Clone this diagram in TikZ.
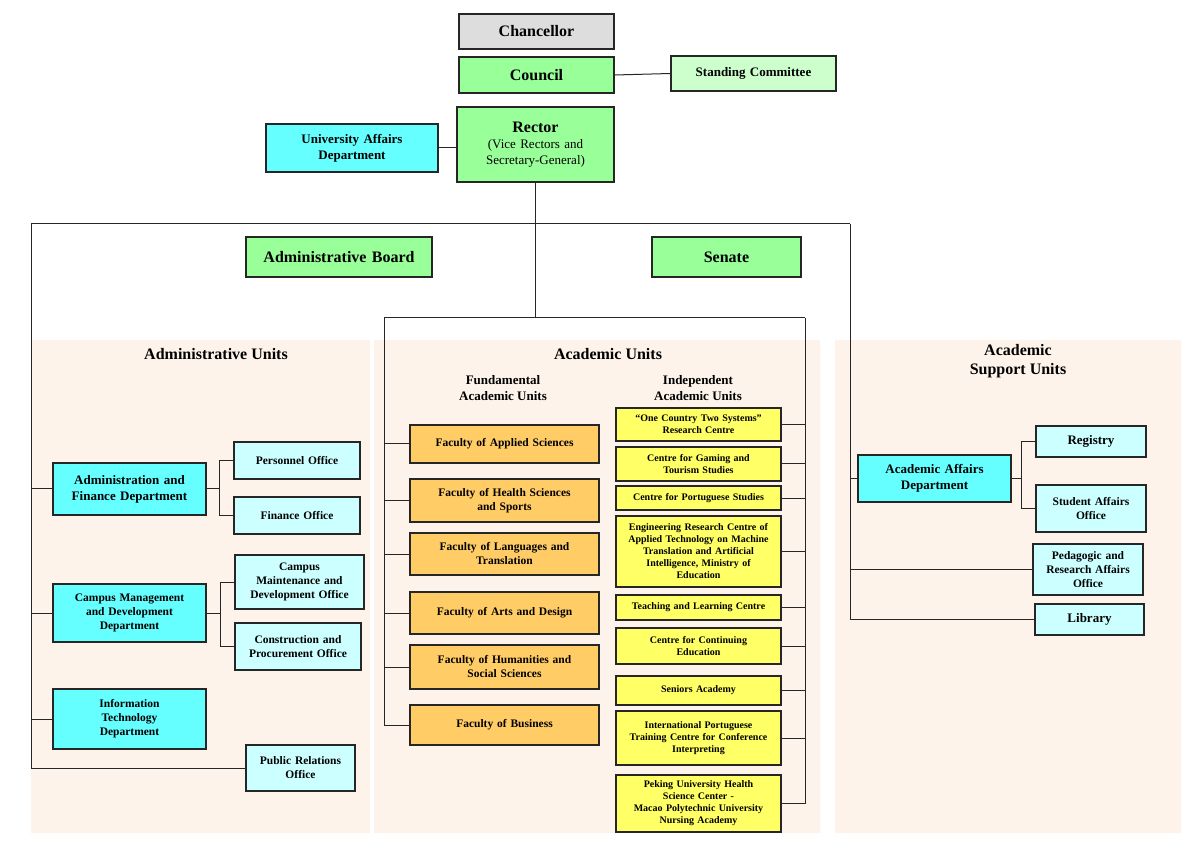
\documentclass[tikz,border=0pt]{standalone}
\usepackage{fontspec}
\setmainfont{Liberation Serif}
\definecolor{cGray}{RGB}{221,221,221}
\definecolor{cGrn}{RGB}{153,255,153}
\definecolor{cLGrn}{RGB}{204,255,204}
\definecolor{cCyan}{RGB}{102,255,255}
\definecolor{cLCyan}{RGB}{204,255,255}
\definecolor{cOrg}{RGB}{255,204,102}
\definecolor{cYel}{RGB}{255,255,102}
\definecolor{cBg}{RGB}{253,243,234}
\begin{document}
\begin{tikzpicture}[x=1pt,y=-1pt,
 bx/.style={draw=black!85,line width=1.2pt,inner sep=1pt,align=center,font=\bfseries},
 gray/.style={bx,fill=cGray},
 grn/.style={bx,fill=cGrn},
 lgrn/.style={bx,fill=cLGrn},
 cyan/.style={bx,fill=cCyan},
 lcyan/.style={bx,fill=cLCyan},
 org/.style={bx,fill=cOrg},
 yel/.style={bx,fill=cYel},
 ln/.style={line width=1pt,black!85},
 big/.style={font=\bfseries\fontsize{16}{18}\selectfont},
 mid/.style={font=\bfseries\fontsize{13}{16}\selectfont},
 sml/.style={font=\bfseries\fontsize{11.5}{14}\selectfont},
 tny/.style={font=\bfseries\fontsize{10}{12}\selectfont},
 ttl/.style={font=\bfseries\fontsize{16}{19}\selectfont,align=center}]
\newcommand\bx[7]{\node[#6,minimum width=#4pt-#2pt,minimum height=#5pt-#3pt,text width=#4pt-#2pt-6pt] (#1) at ({(#2+#4)/2},{(#3+#5)/2}) {#7};}
\useasboundingbox (0,0) rectangle (1200,866);
\fill[cBg] (31,340) rectangle (370,833) (374,340) rectangle (820,833) (835,340) rectangle (1181,833);
\node[ttl] (tA) at (216,354) {Administrative Units};
\node[ttl] (tB) at (608,354) {Academic Units};
\node[ttl] (tC) at (1018,361) {Academic\\Support Units};
\node[mid,align=center] (tF) at (503,388) {Fundamental\\Academic Units};
\node[mid,align=center] (tI) at (698,388) {Independent\\Academic Units};
\bx{ch}{459}{14}{614}{49}{gray,big}{Chancellor}
\bx{co}{459}{57}{614}{93}{grn,big}{Council}
\bx{sc}{671}{56}{836}{91}{lgrn,mid}{Standing Committee}
\bx{re}{457}{107}{614}{182}{grn,mid}{{\fontsize{16}{19}\selectfont Rector}\\{\mdseries (Vice Rectors and\\Secretary-General)}}
\bx{ua}{266}{124}{438}{172}{cyan,mid}{University Affairs\\Department}
\bx{ab}{246}{237}{432}{277}{grn,big}{Administrative Board}
\bx{se}{652}{237}{801}{277}{grn,big}{Senate}
% admin
\bx{af}{53}{463}{206}{515}{cyan,mid}{Administration and\\Finance Department}
\bx{po}{234}{442}{360}{479}{lcyan,sml}{Personnel Office}
\bx{fo}{234}{497}{360}{534}{lcyan,sml}{Finance Office}
\bx{cm}{53}{584}{206}{642}{cyan,sml}{Campus Management\\and Development\\Department}
\bx{cmo}{235}{555}{364}{609}{lcyan,sml}{Campus\\Maintenance and\\Development Office}
\bx{cpo}{235}{623}{361}{670}{lcyan,sml}{Construction and\\Procurement Office}
\bx{it}{53}{689}{206}{749}{cyan,sml}{Information\\Technology\\Department}
\bx{pr}{246}{745}{355}{791}{lcyan,sml}{Public Relations\\Office}
% faculties
\bx{f1}{410}{425}{599}{463}{org,sml}{Faculty of Applied Sciences}
\bx{f2}{410}{479}{599}{522}{org,sml}{Faculty of Health Sciences\\and Sports}
\bx{f3}{410}{533}{599}{575}{org,sml}{Faculty of Languages and\\Translation}
\bx{f4}{410}{592}{599}{634}{org,sml}{Faculty of Arts and Design}
\bx{f5}{410}{645}{599}{689}{org,sml}{Faculty of Humanities and\\Social Sciences}
\bx{f6}{410}{705}{599}{745}{org,sml}{Faculty of Business}
% independent
\bx{i1}{616}{408}{781}{441}{yel,tny}{“One Country Two Systems”\\Research Centre}
\bx{i2}{616}{447}{781}{481}{yel,tny}{Centre for Gaming and\\Tourism Studies}
\bx{i3}{616}{486}{781}{510}{yel,tny}{Centre for Portuguese Studies}
\bx{i4}{616}{516}{781}{587}{yel,tny}{Engineering Research Centre of\\Applied Technology on Machine\\Translation and Artificial\\Intelligence, Ministry of\\Education}
\bx{i5}{616}{595}{781}{620}{yel,tny}{Teaching and Learning Centre}
\bx{i6}{616}{628}{781}{664}{yel,tny}{Centre for Continuing\\Education}
\bx{i7}{616}{676}{781}{705}{yel,tny}{Seniors Academy}
\bx{i8}{616}{711}{781}{765}{yel,tny}{International Portuguese\\Training Centre for Conference\\Interpreting}
\bx{i9}{616}{775}{781}{832}{yel,tny}{Peking University Health\\Science Center -\\Macao Polytechnic University\\Nursing Academy}
% support
\bx{aa}{858}{455}{1011}{502}{cyan,mid}{Academic Affairs\\Department}
\bx{rg}{1036}{426}{1146}{457}{lcyan,mid}{Registry}
\bx{sa}{1036}{485}{1146}{532}{lcyan,sml}{Student Affairs\\Office}
\bx{pe}{1033}{544}{1143}{595}{lcyan,sml}{Pedagogic and\\Research Affairs\\Office}
\bx{li}{1035}{604}{1144}{635}{lcyan,mid}{Library}
% connectors
\coordinate (L) at (31,224); \coordinate (R) at (850,224);
\coordinate (AL) at (384,318); \coordinate (AR) at (805,318);
\draw[ln] (co.east) -- (sc.west);
\draw[ln] (ua.east) -- (ua.east-|re.west);
\draw[ln] (re.south) -- (re.south|-AL);
\draw[ln] (L) -- (R);
\draw[ln] (L) |- (pr.west);
\draw[ln] (R) |- (li.west);
\draw[ln] (AL) -- (AR);
\draw[ln] (AL) |- (f6.west);
\draw[ln] (AR) |- (i9.east);
\foreach \n in {af,cm,it} \draw[ln] (\n.west) -- (\n.west-|L);
\foreach \n in {f1,f2,f3,f4,f5} \draw[ln] (\n.west) -- (\n.west-|AL);
\foreach \n in {i1,i2,i3,i4,i5,i6,i7,i8} \draw[ln] (\n.east) -- (\n.east-|AR);
\draw[ln] (aa.west) -- (aa.west-|R);
\draw[ln] (pe.west) -- (pe.west-|R);
\draw[ln] (af.east) -- ++(13,0) coordinate (b1);
\draw[ln] (po.west) -| (b1) |- (fo.west);
\draw[ln] (cm.east) -- ++(14,0) coordinate (b2);
\draw[ln] (cmo.west) -| (b2) |- (cpo.west);
\draw[ln] (aa.east) -- ++(10,0) coordinate (b3);
\draw[ln] (rg.west) -| (b3) |- (sa.west);
\end{tikzpicture}
\end{document}
